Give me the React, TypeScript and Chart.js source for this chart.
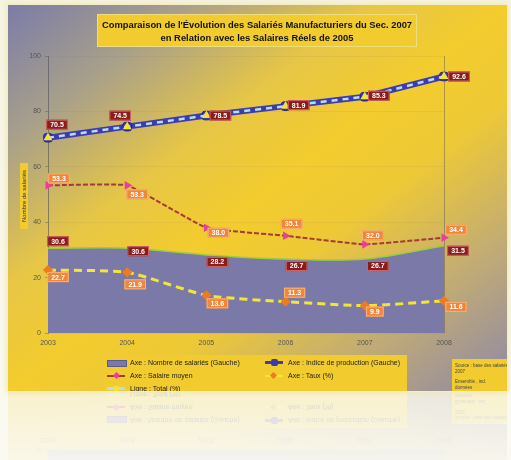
import React, { useEffect, useRef } from "react";
import { Chart, registerables } from "chart.js";

Chart.register(...registerables);

// ---------- data ----------
const categories = ["2003", "2004", "2005", "2006", "2007", "2008"];
const areaValues = [30.6, 30.6, 28.2, 26.7, 26.7, 31.5];
const indexValues = [70.5, 74.5, 78.5, 81.9, 85.3, 92.6];
const wageValues = [53.3, 53.3, 38.0, 35.1, 32.0, 34.4];
const rateValues = [22.7, 21.9, 13.6, 11.3, 9.9, 11.6];
const yTicks = [0, 20, 40, 60, 80, 100];

const seriesNames = [
  "Axe : Nombre de salariés (Gauche)",
  "Axe : Indice de production (Gauche)",
  "Axe : Salaire moyen",
  "Axe : Taux (%)",
  "Ligne : Total (%)",
];

const titleLines = [
  "Comparaison de l'Évolution des Salariés Manufacturiers du Sec. 2007",
  "en Relation avec les Salaires Réels de 2005",
];
const yAxisTitle = "Nombre de salariés";
const sideNote = ["Source : base des salariés", "2007", "Ensemble , ind.", "données"];

// ---------- label offsets (style, not data) ----------
const areaLabelOffsets = [[10, -7], [11, 3], [11, 7], [11, 7], [13, 7], [14, 5]];
const indexLabelOffsets = [[9, -13], [-7, -11], [14, 0], [13, -1], [14, -1], [15, 0]];
const wageLabelOffsets = [[11, -7], [10, 9], [12, 5], [6, -12], [8, -9], [12, -8]];
const rateLabelOffsets = [[10, 7], [8, 12], [11, 8], [9, -9], [10, 6], [12, 6]];

const FONT = "'Liberation Sans', 'DejaVu Sans', sans-serif";
const YELLOW = "#f2cb2e";

const labelPlugin = {
  id: "valueLabels",
  afterDatasetsDraw(chart: any) {
    const ctx = chart.ctx;
    ctx.save();
    chart.data.datasets.forEach((ds: any, i: number) => {
      const cfg = ds.valueLabels;
      if (!cfg) return;
      const meta = chart.getDatasetMeta(i);
      meta.data.forEach((pt: any, j: number) => {
        const v = ds.data[j];
        const text = v.toFixed(1);
        ctx.font = `bold 7px ${FONT}`;
        const w = ctx.measureText(text).width + 8;
        const h = 10;
        const [dx, dy] = cfg.offsets[j];
        const cx = pt.x + dx;
        const cy = pt.y + dy;
        ctx.fillStyle = cfg.bg;
        ctx.fillRect(cx - w / 2, cy - h / 2, w, h);
        ctx.strokeStyle = cfg.border;
        ctx.lineWidth = 1;
        ctx.strokeRect(cx - w / 2 + 0.5, cy - h / 2 + 0.5, w - 1, h - 1);
        ctx.fillStyle = "#ffffff";
        ctx.textAlign = "center";
        ctx.textBaseline = "middle";
        ctx.fillText(text, cx, cy + 0.5);
      });
    });
    ctx.restore();
  },
};

function ChartCanvas() {
  const ref = useRef<HTMLCanvasElement | null>(null);
  useEffect(() => {
    if (!ref.current) return;
    const chart = new Chart(ref.current, {
      type: "line",
      data: {
        labels: categories,
        datasets: [
          {
            label: seriesNames[0],
            data: areaValues,
            fill: "origin",
            backgroundColor: "#7b79a7",
            borderColor: "#9ccd3a",
            borderWidth: 1.5,
            pointRadius: 0,
            tension: 0.35,
            order: 5,
            valueLabels: { offsets: areaLabelOffsets, bg: "#8c1c1c", border: "#c66" },
          } as any,
          {
            label: seriesNames[3],
            data: rateValues,
            fill: false,
            borderColor: "#f3e53a",
            borderWidth: 3,
            borderDash: [8, 5],
            pointStyle: "rectRot",
            pointRadius: 3,
            pointBackgroundColor: "#f07a22",
            pointBorderColor: "#f07a22",
            tension: 0.2,
            order: 4,
            valueLabels: { offsets: rateLabelOffsets, bg: "#f0863a", border: "#f8b47a" },
          } as any,
          {
            label: seriesNames[2],
            data: wageValues,
            fill: false,
            borderColor: "#a63a36",
            borderWidth: 2,
            borderDash: [5, 2],
            pointStyle: "triangle",
            pointRotation: 90,
            pointRadius: 3,
            pointBackgroundColor: "#e8409a",
            pointBorderColor: "#e8409a",
            tension: 0.1,
            order: 3,
            valueLabels: { offsets: wageLabelOffsets, bg: "#f0863a", border: "#f8b47a" },
          } as any,
          {
            label: seriesNames[1],
            data: indexValues,
            fill: false,
            borderColor: "#3c3cb0",
            borderWidth: 6,
            pointStyle: "rectRounded",
            pointRadius: 5,
            pointBackgroundColor: "#3a3aae",
            pointBorderColor: "#24248a",
            pointBorderWidth: 1,
            order: 2,
            valueLabels: { offsets: indexLabelOffsets, bg: "#8c1c1c", border: "#c66" },
          } as any,
          {
            label: seriesNames[4],
            data: indexValues,
            fill: false,
            borderColor: "#b6dcf4",
            borderWidth: 2.5,
            borderDash: [6, 5],
            pointStyle: "triangle",
            pointRadius: 2.6,
            pointBackgroundColor: "#f6e23a",
            pointBorderColor: "#f6e23a",
            order: 1,
          } as any,
        ],
      },
      options: {
        responsive: false,
        animation: false,
        devicePixelRatio: 1,
        layout: { padding: { top: 51, left: 0, right: 63, bottom: 0 } },
        plugins: { legend: { display: false }, tooltip: { enabled: false } },
        scales: {
          x: {
            offset: false,
            afterFit: (s: any) => {
              s.height = 58;
            },
            grid: {
              drawTicks: false,
              color: (c: any) =>
                c.index === categories.length - 1 ? "rgba(90,85,80,0.45)" : "rgba(0,0,0,0)",
            },
            border: { display: false },
            ticks: {
              padding: 6,
              color: "#555",
              font: { size: 7, family: FONT },
              maxRotation: 0,
            },
          },
          y: {
            min: 0,
            max: 100,
            afterFit: (s: any) => {
              s.width = 40;
            },
            afterBuildTicks: (s: any) => {
              s.ticks = yTicks.map((v) => ({ value: v }));
            },
            grid: {
              color: "rgba(150,120,80,0.1)",
              tickLength: 3,
              tickColor: "rgba(80,80,80,0.4)",
            },
            border: { display: true, color: "rgba(80,80,90,0.6)", width: 1, dash: [] },
            ticks: {
              padding: 4,
              color: "#555",
              font: { size: 7, family: FONT },
            },
          },
        },
      },
      plugins: [labelPlugin],
    } as any);
    return () => chart.destroy();
  }, []);
  return (
    <canvas
      ref={ref}
      width={499}
      height={386}
      style={{ position: "absolute", left: 0, top: 0, width: 499, height: 386 }}
    />
  );
}

function LegendItem({ kind, text }: { kind: number; text: string }) {
  const sym: React.ReactNode[] = [];
  if (kind === 0) {
    sym.push(
      <div key="a" style={{ position: "absolute", left: 0, top: 2, width: 18, height: 5, background: "#7b79a7", border: "1px solid #5d5b8a" }} />
    );
  } else if (kind === 1) {
    sym.push(<div key="l" style={{ position: "absolute", left: 0, top: 3, width: 18, height: 3, background: "#3c3cb0" }} />);
    sym.push(<div key="m" style={{ position: "absolute", left: 6, top: 1, width: 7, height: 7, borderRadius: 2, background: "#3a3aae" }} />);
  } else if (kind === 2) {
    sym.push(<div key="l" style={{ position: "absolute", left: 0, top: 4, width: 18, height: 2, background: "#a63a36" }} />);
    sym.push(<div key="m" style={{ position: "absolute", left: 7, top: 2, width: 5, height: 5, background: "#e8409a", transform: "rotate(45deg)" }} />);
  } else if (kind === 3) {
    sym.push(<div key="l" style={{ position: "absolute", left: 0, top: 4, width: 18, height: 2, background: "#f3e53a" }} />);
    sym.push(<div key="m" style={{ position: "absolute", left: 6, top: 2, width: 5, height: 5, background: "#f07a22", transform: "rotate(45deg)" }} />);
  } else {
    sym.push(<div key="l" style={{ position: "absolute", left: 0, top: 3, width: 18, height: 3, background: "#b6dcf4" }} />);
    sym.push(<div key="m" style={{ position: "absolute", left: 7, top: 2, width: 5, height: 5, background: "#f6e23a" }} />);
  }
  return (
    <div style={{ position: "relative", height: 12, paddingLeft: 23, fontSize: 7, lineHeight: "10px", color: "#222", whiteSpace: "nowrap", fontFamily: FONT }}>
      <div style={{ position: "absolute", left: 0, top: 0, width: 19, height: 10 }}>{sym}</div>
      {text}
    </div>
  );
}

export default function App() {
  return (
    <div
      style={{
        position: "fixed",
        left: 0,
        top: 0,
        width: 511,
        height: 460,
        overflow: "hidden",
        background: "linear-gradient(to bottom, #f6f4e4, #fbfaf2)",
      }}
    >
      <div
        style={{
          position: "absolute",
          left: 8,
          top: 5,
          width: 499,
          height: 386,
          overflow: "hidden",
          background:
            "linear-gradient(to bottom right, #7b7ca8 0%, #a9a08a 18%, #e6c646 36%, #f3cc2e 50%, #eec936 62%, #c2ac74 80%, #8e88a8 100%)",
          boxShadow: "0 0 5px 2px rgba(240,232,180,0.9)",
          WebkitBoxReflect: "below 1px linear-gradient(to bottom, transparent 75%, rgba(0,0,0,0.18))",
        } as any}
      >
        <div
          style={{
            position: "absolute",
            left: 89,
            top: 9,
            width: 320,
            height: 33,
            background: YELLOW,
            border: "1px solid #f0dd80",
            boxSizing: "border-box",
            textAlign: "center",
            fontFamily: FONT,
            fontWeight: "bold",
            fontSize: 9.4,
            lineHeight: "13px",
            paddingTop: 3,
            color: "#111",
            whiteSpace: "nowrap",
          }}
        >
          <div>{titleLines[0]}</div>
          <div>{titleLines[1]}</div>
        </div>
        <div
          style={{
            position: "absolute",
            left: 12,
            top: 158,
            width: 8,
            height: 66,
            background: YELLOW,
            display: "flex",
            alignItems: "center",
            justifyContent: "center",
          }}
        >
          <div
            style={{
              writingMode: "vertical-rl",
              transform: "rotate(180deg)",
              fontSize: 6,
              fontFamily: FONT,
              color: "#333",
              whiteSpace: "nowrap",
              lineHeight: "8px",
            }}
          >
            {yAxisTitle}
          </div>
        </div>
        <ChartCanvas />
        <div
          style={{
            position: "absolute",
            left: 95,
            top: 350,
            width: 304,
            height: 42,
            background: YELLOW,
            boxSizing: "border-box",
            padding: "3px 0 0 4px",
            display: "grid",
            gridTemplateColumns: "158px 140px",
          }}
        >
          <LegendItem kind={0} text={seriesNames[0]} />
          <LegendItem kind={1} text={seriesNames[1]} />
          <LegendItem kind={2} text={seriesNames[2]} />
          <LegendItem kind={3} text={seriesNames[3]} />
          <LegendItem kind={4} text={seriesNames[4]} />
        </div>
        <div
          style={{
            position: "absolute",
            left: 444,
            top: 354,
            width: 60,
            height: 40,
            background: YELLOW,
            boxSizing: "border-box",
            padding: "4px 3px",
            fontFamily: FONT,
            fontSize: 4.5,
            lineHeight: "6px",
            color: "#444",
            whiteSpace: "nowrap",
            overflow: "hidden",
          }}
        >
          <div>{sideNote[0]}</div>
          <div>{sideNote[1]}</div>
          <div style={{ marginTop: 4 }}>{sideNote[2]}</div>
          <div>{sideNote[3]}</div>
        </div>
      </div>
    </div>
  );
}
